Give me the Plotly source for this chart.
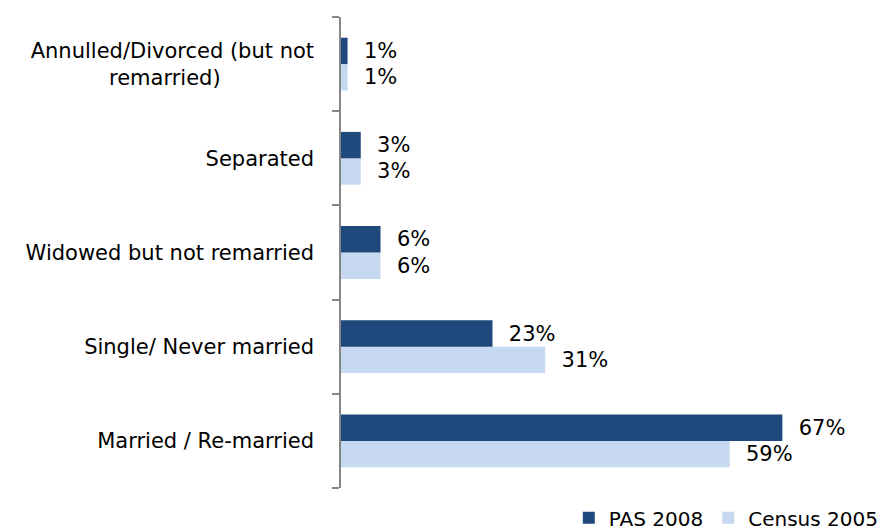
import plotly.graph_objects as go

categories = [
    "Married / Re-married",
    "Single/ Never married",
    "Widowed but not remarried",
    "Separated",
    "Annulled/Divorced (but not<br>remarried)" + "\u00a0" * 14,
]
pas_2008 = [67, 23, 6, 3, 1]
census_2005 = [59, 31, 6, 3, 1]

FONT = "'DejaVu Sans', Carlito, sans-serif"
SIZE = 21

fig = go.Figure()

# census first so it sits below PAS within each group
fig.add_trace(
    go.Bar(
        y=categories,
        x=census_2005,
        orientation="h",
        name="Census 2005",
        marker=dict(color="#C6D9F1", line=dict(width=0)),
        text=census_2005,
        texttemplate="  %{x}%",
        textposition="outside",
        textfont=dict(size=SIZE, color="#000000", family=FONT),
        cliponaxis=False,
    )
)

fig.add_trace(
    go.Bar(
        y=categories,
        x=pas_2008,
        orientation="h",
        name="PAS 2008",
        marker=dict(color="#1F497D", line=dict(width=0)),
        text=pas_2008,
        texttemplate="  %{x}%",
        textposition="outside",
        textfont=dict(size=SIZE, color="#000000", family=FONT),
        cliponaxis=False,
    )
)

# page body has an 8px margin, so the margins are shifted to compensate
fig.update_layout(
    width=889,
    height=530,
    margin=dict(l=333, r=29, t=9, b=50, autoexpand=False),
    paper_bgcolor="white",
    plot_bgcolor="white",
    barmode="group",
    bargap=0.44,
    bargroupgap=0,
    font=dict(family=FONT, size=SIZE, color="#000000"),
    legend=dict(
        orientation="h",
        traceorder="reversed",
        x=1.03,
        xanchor="right",
        y=-0.022,
        yanchor="top",
        font=dict(size=20),
        itemwidth=30,
    ),
    xaxis=dict(
        range=[0, 80],
        visible=False,
        showgrid=False,
        zeroline=False,
    ),
    yaxis=dict(
        type="category",
        automargin=False,
        showline=True,
        linecolor="#868686",
        linewidth=1.5,
        ticks="outside",
        tickson="boundaries",
        ticklen=7,
        tickcolor="#868686",
        tickwidth=1.5,
        ticklabelstandoff=21,
        showgrid=False,
        tickfont=dict(size=SIZE),
    ),
)

fig.write_html("out.html")
